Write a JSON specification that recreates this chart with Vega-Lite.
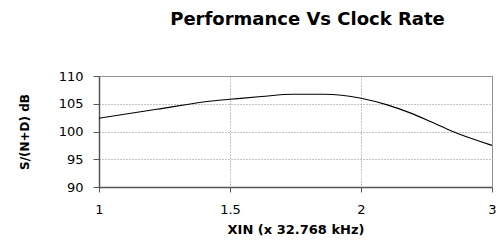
{
  "$schema": "https://vega.github.io/schema/vega-lite/v6.json",
  "width": 393,
  "height": 111,
  "autosize": "none",
  "padding": {"left": 99, "top": 76, "right": 6, "bottom": 58},
  "background": "white",
  "title": {
    "text": "Performance Vs Clock Rate",
    "font": "DejaVu Sans",
    "fontSize": 18,
    "fontWeight": "bold",
    "color": "black",
    "anchor": "middle",
    "offset": 41,
    "dx": 12
  },
  "config": {
    "view": {"stroke": "#999999", "strokeWidth": 1},
    "axis": {
      "labelFont": "DejaVu Sans",
      "titleFont": "DejaVu Sans",
      "labelColor": "black",
      "titleColor": "black",
      "domainColor": "#555555",
      "domainWidth": 1.5,
      "tickColor": "#555555",
      "tickWidth": 1,
      "gridColor": "#888888",
      "gridDash": [1, 2],
      "gridWidth": 1
    }
  },
  "data": {
    "values": [
      {"xin": 1.0, "snd": 102.4},
      {"xin": 1.22, "snd": 104.0},
      {"xin": 1.44, "snd": 105.55},
      {"xin": 1.5, "snd": 105.8},
      {"xin": 1.62, "snd": 106.3},
      {"xin": 1.74, "snd": 106.7},
      {"xin": 1.86, "snd": 106.7},
      {"xin": 2.0, "snd": 106.0},
      {"xin": 2.2, "snd": 104.8},
      {"xin": 2.37, "snd": 103.4},
      {"xin": 2.53, "snd": 101.8},
      {"xin": 2.7, "snd": 100.0},
      {"xin": 3.0, "snd": 97.5}
    ]
  },
  "mark": {"type": "line", "color": "black", "strokeWidth": 1.1, "interpolate": "monotone"},
  "encoding": {
    "x": {
      "field": "xin",
      "type": "quantitative",
      "scale": {"domain": [1, 1.5, 2, 3], "range": [0, 131, 262, 393], "nice": false, "zero": false},
      "axis": {
        "title": "XIN (x 32.768 kHz)",
        "titleFontSize": 13,
        "titleFontWeight": "bold",
        "titlePadding": 7,
        "values": [1, 1.5, 2, 3],
        "format": "~g",
        "labelFontSize": 13,
        "labelPadding": 11,
        "tickSize": 5,
        "labelFlush": false
      }
    },
    "y": {
      "field": "snd",
      "type": "quantitative",
      "scale": {"domain": [90, 110], "nice": false, "zero": false},
      "axis": {
        "title": "S/(N+D) dB",
        "titleFontSize": 12,
        "titleFontWeight": "bold",
        "titlePadding": 27,
        "values": [90, 95, 100, 105, 110],
        "labelFontSize": 13,
        "labelPadding": 10,
        "tickSize": 6
      }
    }
  }
}
